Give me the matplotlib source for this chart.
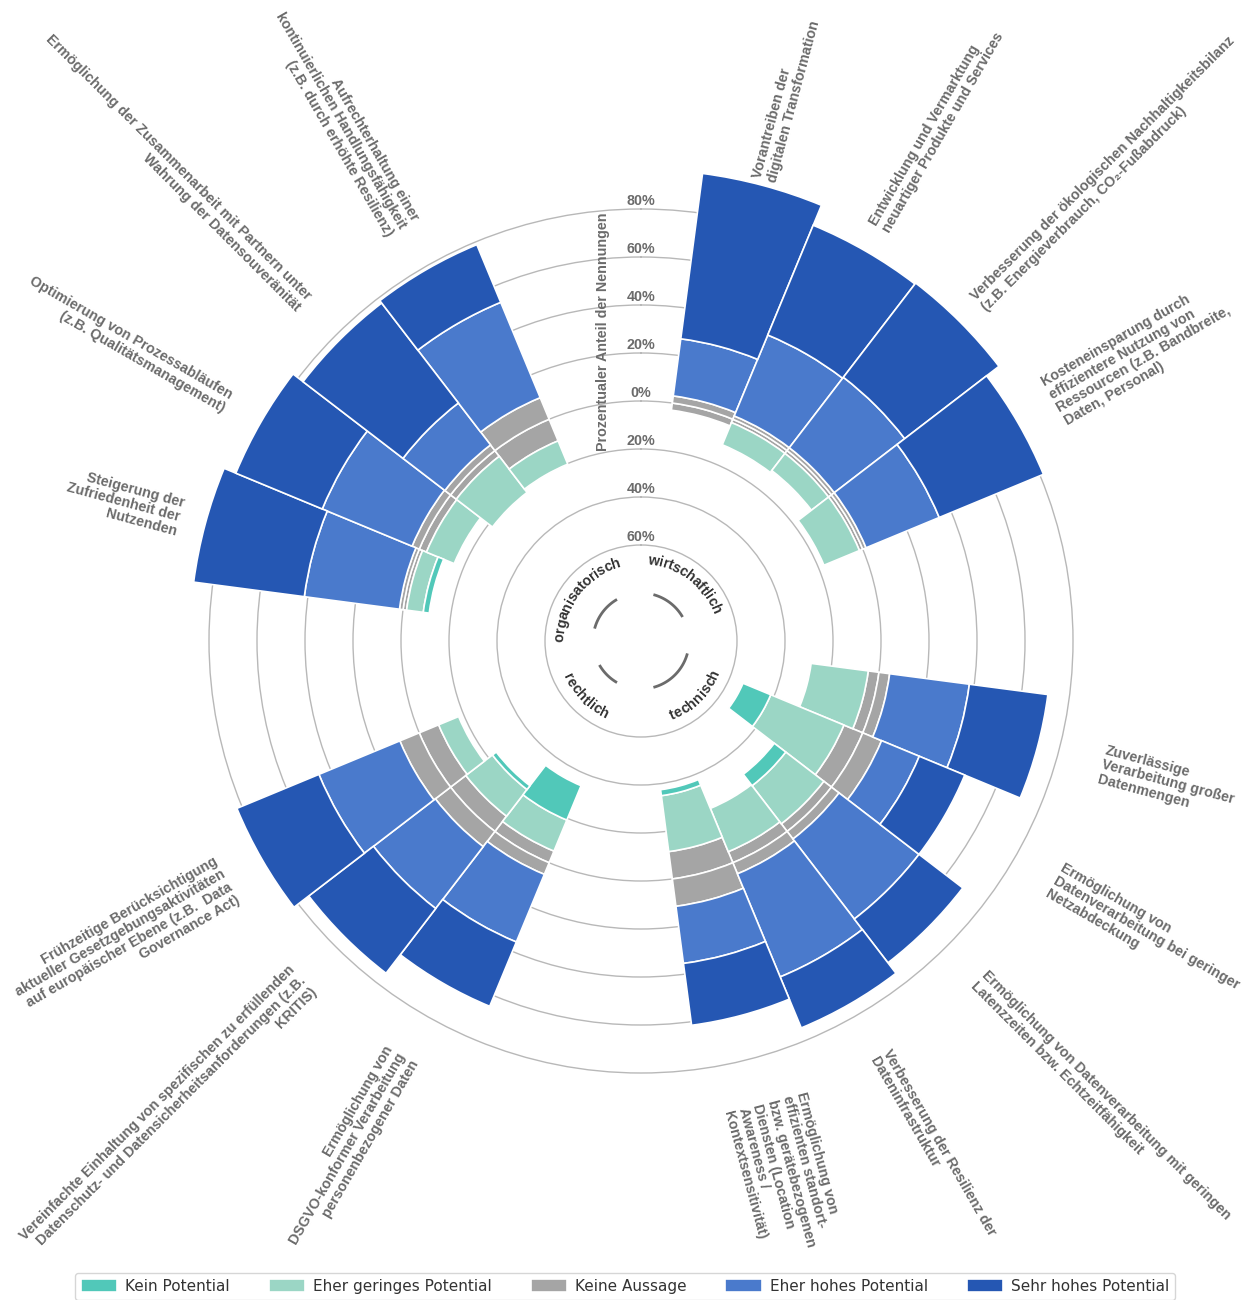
import numpy as np
import matplotlib
matplotlib.use("Agg")
import matplotlib.pyplot as plt
from matplotlib import transforms
from matplotlib.font_manager import FontProperties, findfont, get_font

plt.rcParams['font.family'] = ['Liberation Sans', 'DejaVu Sans']

# --- data (percent of mentions) ---
groups = ['wirtschaftlich', 'technisch', 'rechtlich', 'organisatorisch']
group_sizes = [4, 5, 3, 4]

categories = [
    "Vorantreiben der\ndigitalen Transformation",
    "Entwicklung und Vermarktung\nneuartiger Produkte und Services",
    "Verbesserung der ökologischen Nachhaltigkeitsbilanz\n(z.B. Energieverbrauch, CO₂-Fußabdruck)",
    "Kosteneinsparung durch\neffizientere Nutzung von\nRessourcen (z.B. Bandbreite,\nDaten, Personal)",
    "Zuverlässige\nVerarbeitung großer\nDatenmengen",
    "Ermöglichung von\nDatenverarbeitung bei geringer\nNetzabdeckung",
    "Ermöglichung von Datenverarbeitung mit geringen\nLatenzzeiten bzw. Echtzeitfähigkeit",
    "Verbesserung der Resilienz der\nDateninfrastruktur",
    "Ermöglichung von\neffizienten standort-\nbzw. gerätebezogenen\nDiensten (Location\nAwareness /\nKontextsensitivität)",
    "Ermöglichung von\nDSGVO-konformer Verarbeitung\npersonenbezogener Daten",
    "Vereinfachte Einhaltung von spezifischen zu erfüllenden\nDatenschutz- und Datensicherheitsanforderungen (z.B.\nKRITIS)",
    "Frühzeitige Berücksichtigung\naktueller Gesetzgebungsaktivitäten\nauf europäischer Ebene (z.B.  Data\nGovernance Act)",
    "Steigerung der\nZufriedenheit der\nNutzenden",
    "Optimierung von Prozessabläufen\n(z.B. Qualitätsmanagement)",
    "Ermöglichung der Zusammenarbeit mit Partnern unter\nWahrung der Datensouveränität",
    "Aufrechterhaltung einer\nkontinuierlichen Handlungsfähigkeit\n(z.B. durch erhöhte Resilienz)",
]

kein_potential = [0, 0, 0, 0, 0, 12.5, 6, 0, 2.5, 15.5, 2, 0, 2.5, 0, 0, 0]
eher_geringes = [0, 10, 9, 16, 24, 33, 20, 19.5, 23.5, 14, 14, 9, 7, 12.5, 19, 10.5]
keine_aussage = [6, 3, 3, 3, 9, 17, 8, 10, 23, 10.5, 16, 17.5, 3, 6.5, 6, 19.5]
eher_hohes = [24, 36.5, 37, 33, 33.5, 17, 42, 46.5, 24, 30.5, 32.5, 36.5, 40, 40.5, 22, 43]
sehr_hohes = [69.5, 49.5, 49.5, 47, 33, 20.5, 23, 23, 26, 29, 34, 37, 46.5, 39, 52.5, 26]

series_names = ['Kein Potential', 'Eher geringes Potential', 'Keine Aussage',
                'Eher hohes Potential', 'Sehr hohes Potential']
series_colors = ['#51c8b9', '#9bd6c5', '#a5a5a5', '#4a7acc', '#2557b3']

ticks = [-60, -40, -20, 0, 20, 40, 60, 80]

# --- layout ---
R_ORIGIN, R_MIN, R_MAX = -100, -61, 100
SLOT = 15  # degrees per slot
slots = []
s = 1
for n in group_sizes:
    slots.extend(range(s, s + n))
    s += n + 2
theta_deg = np.array(slots) * SLOT
theta = np.radians(theta_deg)
width = np.radians(SLOT)

fig = plt.figure(figsize=(12.5, 13), dpi=100)
ax_w = 960 / 1250
ax = fig.add_axes([161 / 1250, 179 / 1300, ax_w, 960 / 1300], projection='polar')
ax.set_theta_zero_location('N')
ax.set_theta_direction(-1)
ax.set_axisbelow(True)

kp = np.array(kein_potential)
eg = np.array(eher_geringes)
ka = np.array(keine_aussage)
eh = np.array(eher_hohes)
sh = np.array(sehr_hohes)


def stack(bottom, height, color):
    m = height > 0
    return ax.bar(theta[m], height[m], width=width, bottom=bottom[m], color=color,
                  edgecolor='white', linewidth=1.2)


h_ka = stack(-ka / 2, ka / 2, series_colors[2])
h_eg = stack(-ka / 2 - eg, eg, series_colors[1])
h_kp = stack(-ka / 2 - eg - kp, kp, series_colors[0])
stack(np.zeros_like(ka), ka / 2, series_colors[2])
h_eh = stack(ka / 2, eh, series_colors[3])
h_sh = stack(ka / 2 + eh, sh, series_colors[4])

ax.set_xticks([])
ax.set_yticks(ticks)
ax.set_yticklabels([])
ax.yaxis.grid(True, color='#b8b8b8', linewidth=1)
for sp in ax.spines.values():
    sp.set_edgecolor('none')
    sp.set_linewidth(0)

lab_col = '#6b6b6b'
fs = 10.3
for v in ticks:
    ax.text(0, v + 3.3, f'{abs(v)}%', ha='center', va='center', fontsize=fs,
            fontweight='bold', color=lab_col)
ax.text(0, 28.75, 'Prozentualer Anteil der Nennungen', rotation=90, ha='center',
        va='center', fontsize=fs, fontweight='bold', color=lab_col,
        transform=transforms.offset_copy(ax.transData, fig=fig, x=-38, y=0, units='dots'))

# category labels, radial
for td, lab in zip(theta_deg, categories):
    if td < 180:
        rot, ha = 90 - td, 'left'
    else:
        rot, ha = 270 - td, 'right'
    ax.text(np.radians(td), 98.8, lab, rotation=rot, rotation_mode='anchor', ha=ha,
            va='center', multialignment=ha, fontsize=fs, fontweight='bold',
            color=lab_col, linespacing=1.1)

# group arcs and curved labels in the middle
px_per_unit = fig.dpi * fig.get_figwidth() * ax_w / 2 / (R_MAX - R_ORIGIN)
fp = FontProperties(family='Liberation Sans', weight='bold', size=10.3)
ft = get_font(findfont(fp))
ft.set_size(fp.get_size_in_points(), fig.dpi)


def advance(ch):
    return ft.load_char(ord(ch)).linearHoriAdvance / 65536


def curved(txt, center_deg, r_mid_px, outward):
    adv = [advance(ch) for ch in txt]
    total = sum(adv)
    pos = 0.0
    for ch, a_w in zip(txt, adv):
        sc = pos + a_w / 2 - total / 2
        pos += a_w
        dang = np.degrees(sc / r_mid_px)
        if outward:
            a = center_deg + dang
            rot = -a
            r_base = r_mid_px - 4
        else:
            a = center_deg - dang
            rot = 180 - a
            r_base = r_mid_px + 4
        ax.text(np.radians(a), R_ORIGIN + r_base / px_per_unit, ch, rotation=rot,
                rotation_mode='anchor', ha='center', va='baseline', fontproperties=fp,
                color='#333333', clip_on=False)


idx = 0
for g, n in zip(groups, group_sizes):
    t0, t1 = theta_deg[idx], theta_deg[idx + n - 1]
    arc = np.radians(np.linspace(t0, t1, 80))
    ax.plot(arc, np.full_like(arc, R_ORIGIN + 48 / px_per_unit), color='#6b6b6b',
            lw=2, clip_on=False, solid_capstyle='butt')
    c = (t0 + t1) / 2
    curved(g, c, 81, outward=(c < 90 or c > 270))
    idx += n

ax.set_ylim(R_MIN, R_MAX)
ax.set_rorigin(R_ORIGIN)

fig.legend([h_kp, h_eg, h_ka, h_eh, h_sh], series_names, loc='upper center',
           bbox_to_anchor=(0.5, 1 - 1265 / 1300), ncol=5, frameon=True,
           edgecolor='#cccccc', prop={'family': 'DejaVu Sans', 'size': 11},
           labelcolor='#333333', handlelength=2.4, handleheight=1.0,
           handletextpad=0.5, columnspacing=2.55, borderpad=0.4)

fig.savefig('out.png', dpi=100)
